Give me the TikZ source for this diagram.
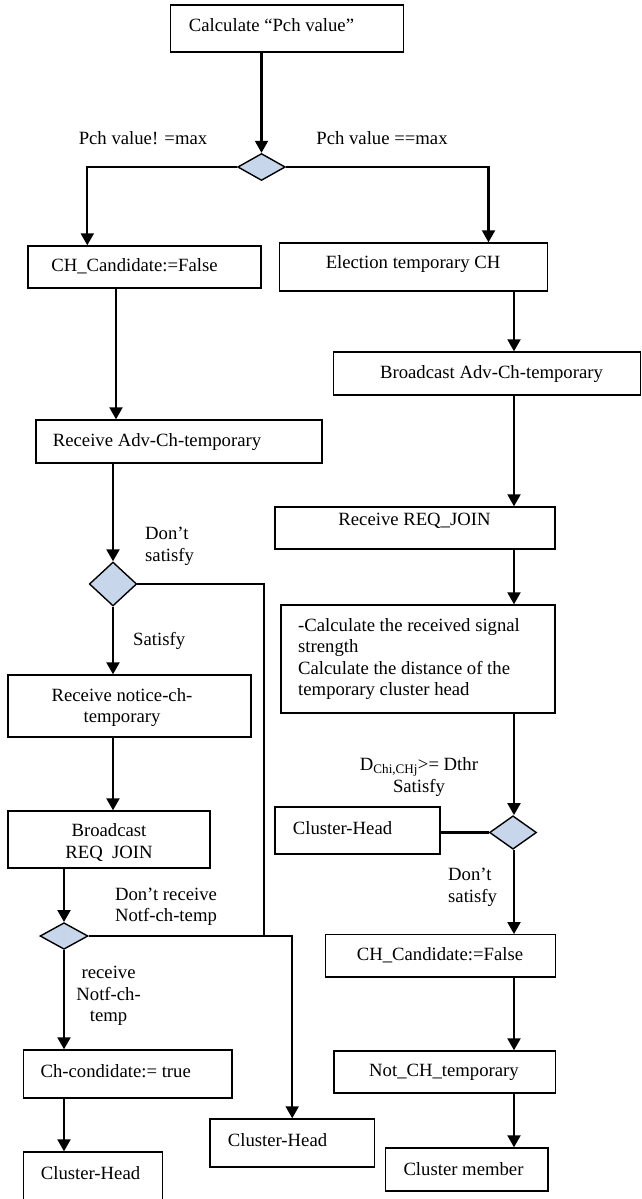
\documentclass[tikz,border=0pt]{standalone}
\usepackage{fontspec}
\setmainfont{Liberation Serif}
\usetikzlibrary{shapes.geometric,arrows.meta}
\definecolor{diafill}{RGB}{200,214,236}
\begin{document}
\begin{tikzpicture}[x=1pt,y=-1pt,
  box/.style={draw,line width=1.4pt,inner sep=0pt,rectangle},
  dia/.style={draw,line width=1.4pt,diamond,inner sep=0pt,fill=diafill},
  txt/.style={font=\fontsize{18.7}{21.5}\selectfont,inner sep=0pt},
  arr/.style={line width=2.1pt,-{Triangle[width=13pt,length=12pt]}},
  ln/.style={line width=2.1pt},
]
\useasboundingbox (0,0) rectangle (642,1199);
\clip (0,0) rectangle (642,1199);
\fill[white] (0,0) rectangle (642,1199);

% boxes
\node[box,minimum width=233.2pt,minimum height=47pt] (top) at (287.1,28.5) {};
\node[box,minimum width=233pt,minimum height=42pt] (chc1) at (144.5,267) {};
\node[box,minimum width=268pt,minimum height=48pt] (elec) at (413.5,267) {};
\node[box,minimum width=286pt,minimum height=43pt] (radv) at (179,441.5) {};
\node[box,minimum width=307pt,minimum height=43pt] (badv) at (487,373.5) {};
\node[box,minimum width=280pt,minimum height=42pt] (rreq) at (415,528) {};
\node[box,minimum width=274pt,minimum height=108pt] (calc) at (418,659) {};
\node[box,minimum width=165pt,minimum height=47pt] (chR) at (357.5,830.5) {};
\node[box,minimum width=230.3pt,minimum height=42.3pt] (chc2) at (440.5,955.9) {};
\node[box,minimum width=221.7pt,minimum height=42pt] (notch) at (444.9,1072) {};
\node[box,minimum width=162.3pt,minimum height=43pt] (cmem) at (466.9,1169.5) {};
\node[box,minimum width=243pt,minimum height=62pt] (rnot) at (129.5,706) {};
\node[box,minimum width=202pt,minimum height=57pt] (brq) at (109,839.5) {};
\node[box,minimum width=208.6pt,minimum height=48pt] (chcond) at (127.7,1074) {};
\node[box,minimum width=139.3pt,minimum height=63pt] (chL) at (93,1183.5) {};
\node[box,minimum width=164.8pt,minimum height=48pt] (chM) at (292.2,1143) {};

% diamonds
\node[dia,minimum width=47.6pt,minimum height=27pt] (d1) at (261.5,167) {};
\node[dia,minimum width=47.4pt,minimum height=44pt] (d2) at (113,584) {};
\node[dia,minimum width=47pt,minimum height=33.4pt] (d3) at (513,832.5) {};
\node[dia,minimum width=48pt,minimum height=26.6pt] (d4) at (64,936) {};

% box texts
\node[txt] (ttop) at (271.5,25) {Calculate “Pch value”};
\node[txt] (tchc1) at (134.5,266) {CH\_Candidate:=False};
\node[txt] (telec) at (413,264) {Election temporary CH};
\node[txt] (tradv) at (157,442) {Receive Adv-Ch-temporary};
\node[txt] (tbadv) at (491.5,374) {Broadcast Adv-Ch-temporary};
\node[txt] (trreq) at (414.5,521) {Receive REQ\_JOIN};
\node[txt,anchor=west,align=left] (tcalc) at (298,659) {-Calculate the received signal\\strength\\Calculate the distance of the\\temporary cluster head};
\node[txt] (tchR) at (342.5,828) {Cluster-Head};
\node[txt] (tchc2) at (440,955) {CH\_Candidate:=False};
\node[txt] (tnotch) at (444,1072) {Not\_CH\_temporary};
\node[txt] (tcmem) at (463.5,1169) {Cluster member};
\node[txt,align=center] (trnot) at (122,707.5) {Receive notice-ch-\\temporary};
\node[txt,align=center] (tbrq) at (109,842.5) {Broadcast\\REQ~~JOIN};
\node[txt] (tchcond) at (115.7,1071) {Ch-condidate:= true};
\node[txt] (tchL) at (90.5,1173) {Cluster-Head};
\node[txt] (tchM) at (277.5,1140) {Cluster-Head};

% connector labels
\node[txt] (l1) at (143,138) {Pch value! =max};
\node[txt] (l2) at (382,138) {Pch value ==max};
\node[txt,anchor=west,align=left] (l3) at (145,546.5) {Don’t\\satisfy};
\node[txt,anchor=west] (l4) at (133,641) {Satisfy};
\node[txt,align=center] (l5) at (419,777) {D\textsubscript{Chi,CHj}>= Dthr\\Satisfy};
\node[txt,anchor=west,align=left] (l6) at (448,887.5) {Don’t\\satisfy};
\node[txt,align=center] (l7) at (166,907) {Don’t receive\\Notf-ch-temp};
\node[txt,align=center] (l8) at (108.6,996) {receive\\Notf-ch-\\temp};

% x positions of connectors
\coordinate (xb) at (87.3,0);
\coordinate (xc) at (488.5,0);
\coordinate (xd) at (116,0);
\coordinate (xe) at (514,0);
\coordinate (j1) at (264,936);

% connectors
\draw[arr] (top.south -| d1.north) -- (d1.north);
\draw[arr] (d1.west) -| (chc1.north -| xb);
\draw[arr] (d1.east) -| (elec.north -| xc);
\draw[arr] (chc1.south -| xd) -- (radv.north -| xd);
\draw[arr] (elec.south -| xe) -- (badv.north -| xe);
\draw[arr] (badv.south -| xe) -- (rreq.north -| xe);
\draw[arr] (rreq.south -| xe) -- (calc.north -| xe);
\draw[arr] (calc.south -| xe) -- (d3.north -| xe);
\draw[ln] (d3.west) -- (d3.west -| chR.east);
\draw[arr] (d3.south -| xe) -- (chc2.north -| xe);
\draw[arr] (chc2.south -| xe) -- (notch.north -| xe);
\draw[arr] (notch.south -| xe) -- (cmem.north -| xe);
\draw[arr] (radv.south -| d2.north) -- (d2.north);
\draw[arr] (d2.south) -- (rnot.north -| d2.south);
\draw[arr] (rnot.south -| d2.south) -- (brq.north -| d2.south);
\draw[arr] (brq.south -| d4.north) -- (d4.north);
\draw[arr] (d4.south) -- (chcond.north -| d4.south);
\draw[arr] (chcond.south -| d4.south) -- (chL.north -| d4.south);
\draw[ln] (d2.east) -| (j1);
\draw[arr] (d4.east) -| (chM.north);
\end{tikzpicture}
\end{document}
